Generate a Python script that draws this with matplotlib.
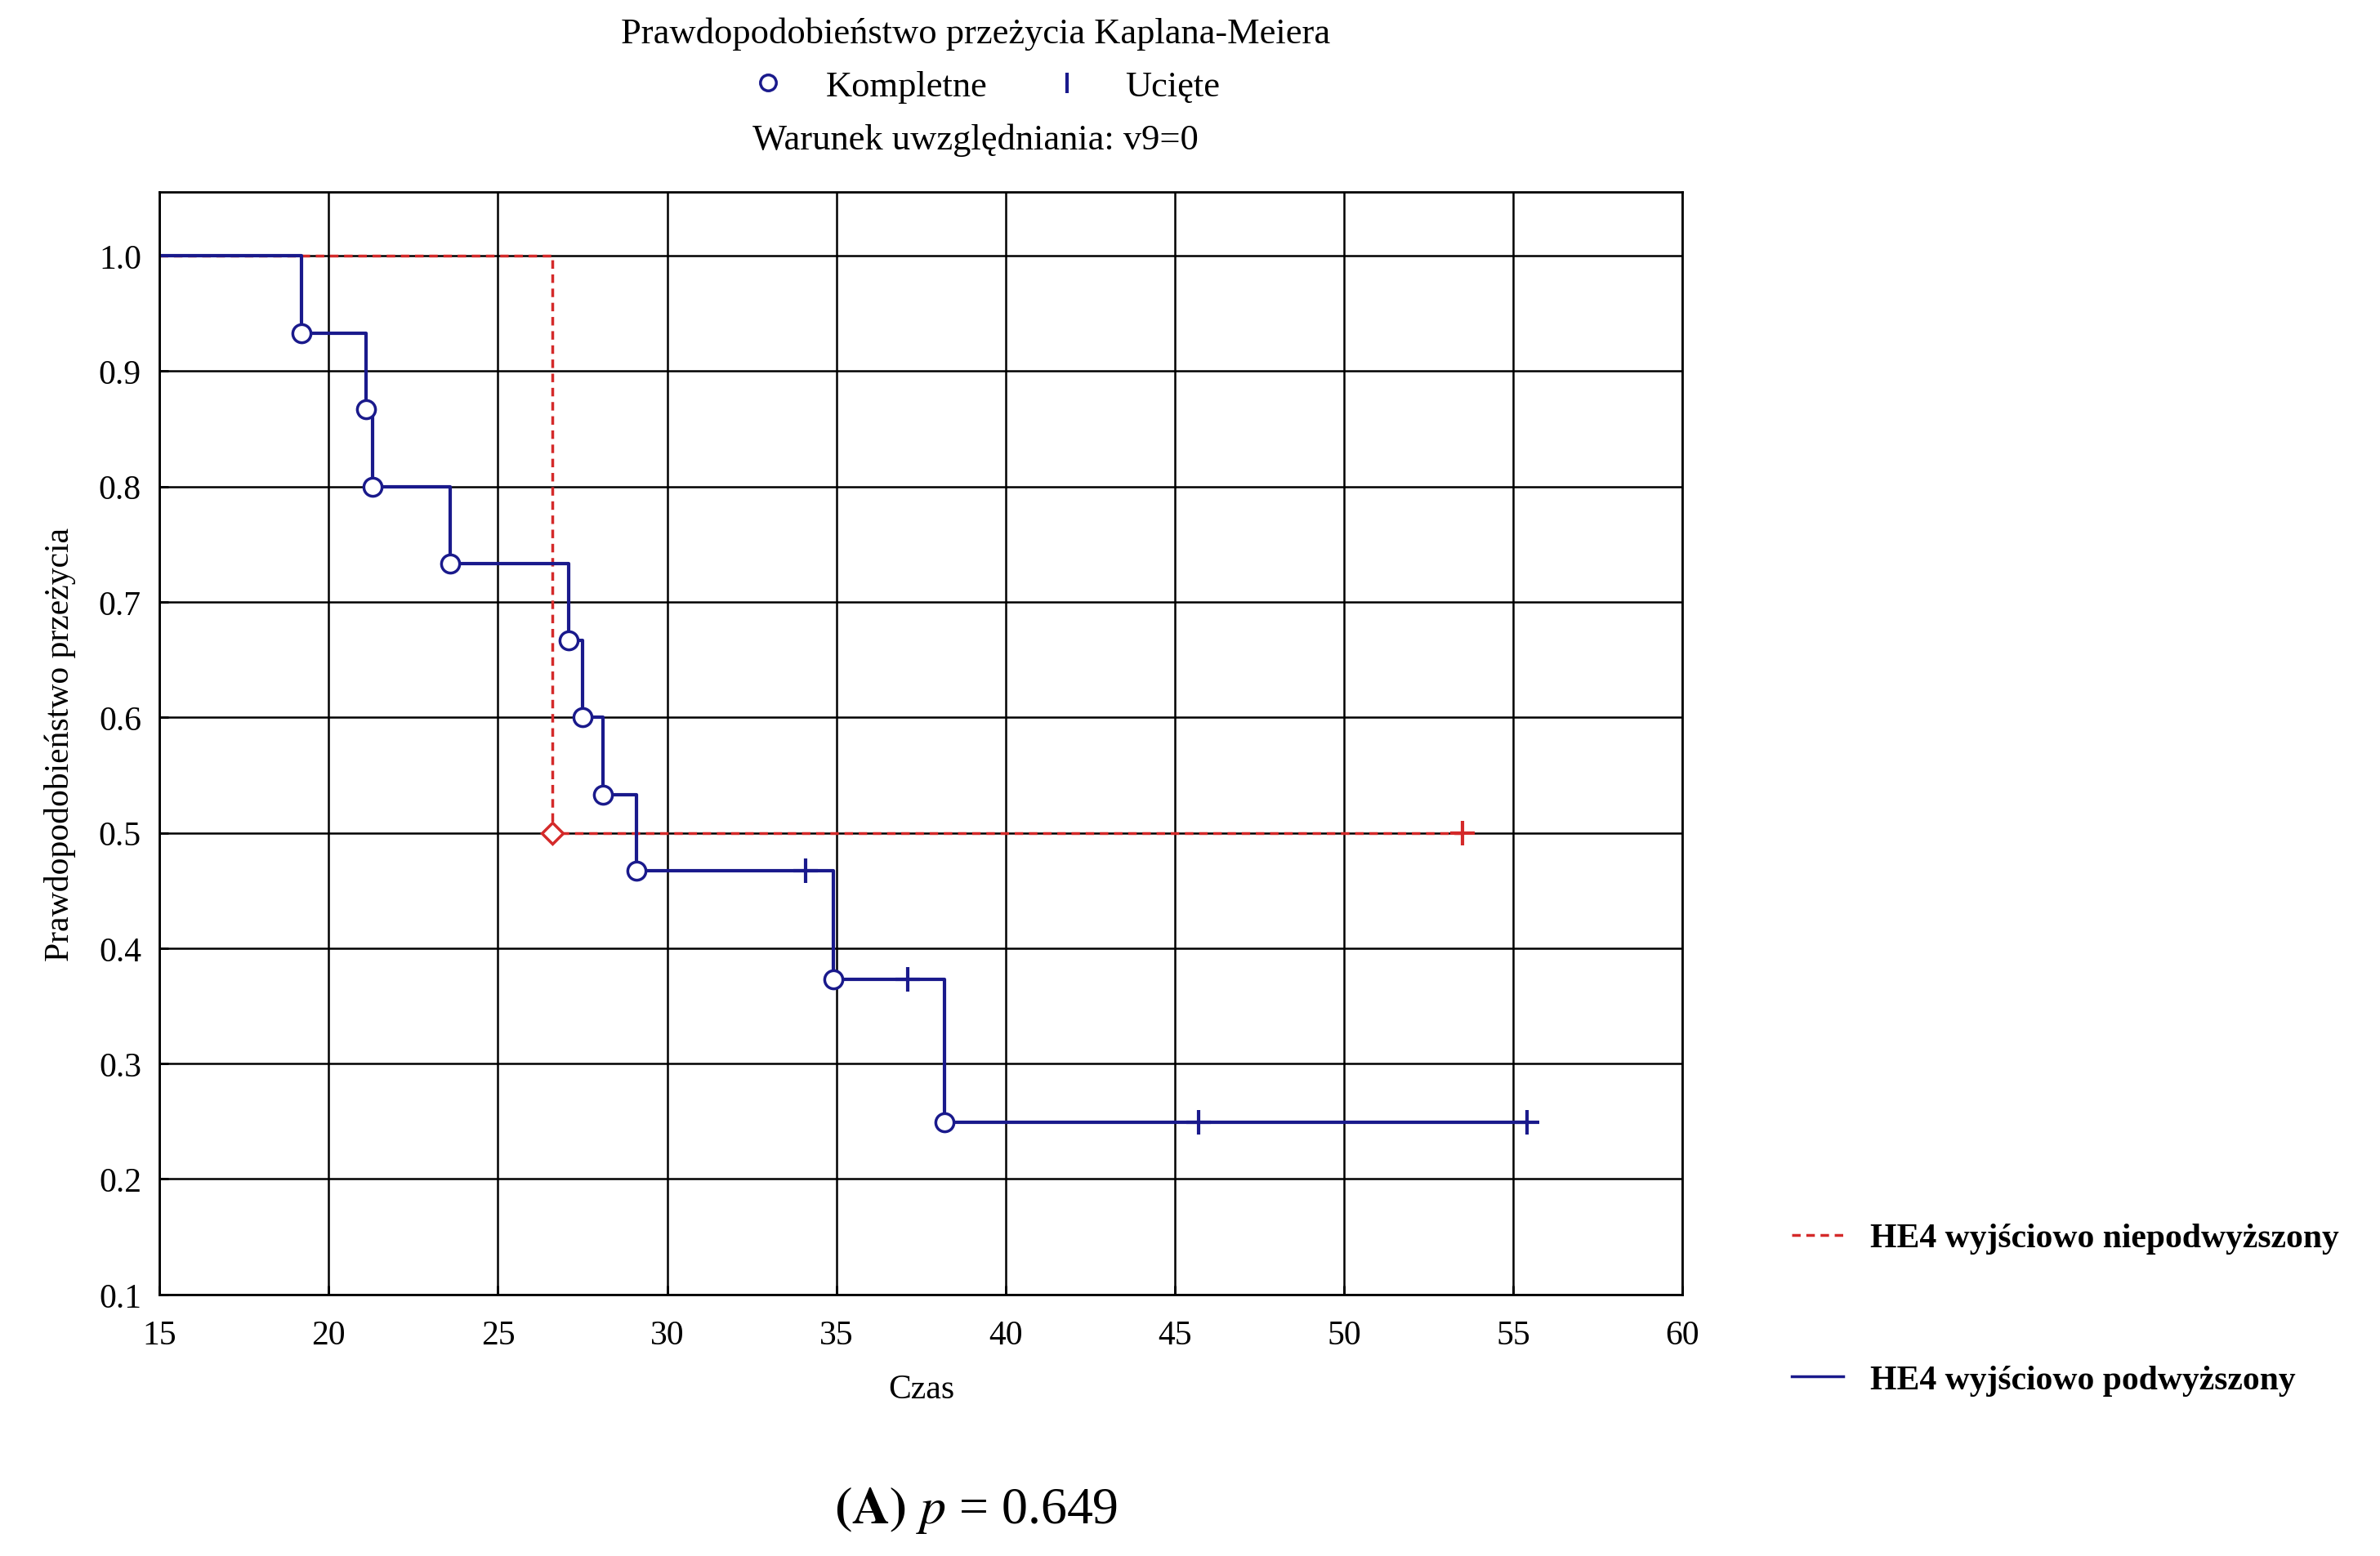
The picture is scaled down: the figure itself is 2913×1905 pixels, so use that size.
import matplotlib
matplotlib.use('Agg')
import matplotlib.pyplot as plt
from matplotlib.lines import Line2D

plt.rcParams['font.family'] = ['Liberation Serif', 'DejaVu Serif']
plt.rcParams['mathtext.fontset'] = 'stix'

# Blue group: HE4 baseline elevated
blue_event_t = [19.2, 21.1, 21.3, 23.6, 27.1, 27.5, 28.1, 29.1, 34.9, 38.2]
blue_event_s = [0.933, 0.867, 0.800, 0.733, 0.667, 0.600, 0.533, 0.467, 0.373, 0.249]
blue_cens_t = [34.1, 37.1, 45.7, 55.4]
blue_cens_s = [0.467, 0.373, 0.249, 0.249]

# Red group: HE4 baseline not elevated
red_event_t = [26.6]
red_event_s = [0.500]
red_cens_t = [53.5]
red_cens_s = [0.500]

BLUE = '#1a1a8c'
RED = '#d42a2a'


def km_steps(ev_t, ev_s, end_t):
    xs, ys = [15.0], [1.0]
    for t, s in zip(ev_t, ev_s):
        xs += [t, t]
        ys += [ys[-1], s]
    xs.append(end_t)
    ys.append(ys[-1])
    return xs, ys


fig = plt.figure(figsize=(29.13, 19.06), dpi=100)
ax = fig.add_axes([0.067, 0.168, 0.640, 0.708])

bx, by = km_steps(blue_event_t, blue_event_s, max(blue_cens_t))
rx, ry = km_steps(red_event_t, red_event_s, max(red_cens_t))
ax.plot(rx, ry, color=RED, lw=2.5, ls=(0, (3, 2)))
ax.plot(bx, by, color=BLUE, lw=3)
ax.plot(blue_event_t, blue_event_s, 'o', ms=16, mfc='white', mec=BLUE, mew=2.5)
ax.plot(blue_cens_t, blue_cens_s, '+', ms=22, mec=BLUE, mew=3)
ax.plot(red_event_t, red_event_s, 'D', ms=13, mfc='white', mec=RED, mew=2.5)
ax.plot(red_cens_t, red_cens_s, '+', ms=22, mec=RED, mew=3)

ax.set_xlim(15, 60)
ax.set_ylim(0.1, 1.055)
ax.set_xticks(range(15, 61, 5))
ax.set_yticks([0.1 * i for i in range(1, 11)])
ax.set_yticklabels([f'{0.1 * i:.1f}' for i in range(1, 11)])
ax.grid(True, color='black', lw=1.8)
ax.tick_params(direction='in', labelsize=30, length=8, width=2)
ax.tick_params(axis='x', pad=22)
ax.tick_params(axis='y', pad=16)
for sp in ax.spines.values():
    sp.set_linewidth(2)
ax.set_xlabel('Czas', fontsize=30, labelpad=20)
ax.set_ylabel('Prawdopodobieństwo przeżycia', fontsize=30, labelpad=20)

fig.text(0.41, 0.978, 'Prawdopodobieństwo przeżycia Kaplana-Meiera', ha='center', va='center', fontsize=32)
fig.text(0.41, 0.910, 'Warunek uwzględniania: v9=0', ha='center', va='center', fontsize=32)
top_handles = [Line2D([], [], ls='none', marker='o', ms=14, mfc='white', mec=BLUE, mew=2.5),
               Line2D([], [], ls='none', marker='|', ms=18, mec=BLUE, mew=3)]
fig.legend(top_handles, ['Kompletne', 'Ucięte'], loc='center', bbox_to_anchor=(0.41, 0.944),
           ncol=2, frameon=False, fontsize=32, handletextpad=0.6, columnspacing=1.2)

fig.legend([Line2D([], [], color=RED, lw=2.5, ls=(0, (3, 2)))], ['HE4 wyjściowo niepodwyższony'],
           loc='center left', bbox_to_anchor=(0.74, 0.204), frameon=False,
           prop={'weight': 'bold', 'size': 30}, handlelength=1.5)
fig.legend([Line2D([], [], color=BLUE, lw=2.5)], ['HE4 wyjściowo podwyższony'],
           loc='center left', bbox_to_anchor=(0.74, 0.113), frameon=False,
           prop={'weight': 'bold', 'size': 30}, handlelength=1.5)

fig.text(0.41, 0.030, r'$\mathbf{(A)}\ \mathit{p}$ = 0.649', ha='center', va='center', fontsize=46)

fig.savefig('out.png', dpi=100)
